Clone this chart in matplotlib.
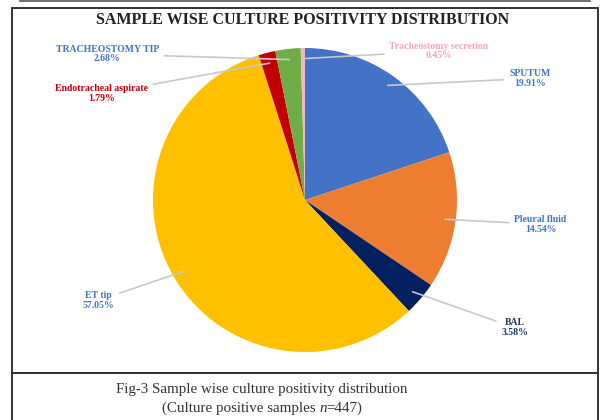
import matplotlib.pyplot as plt
from matplotlib.patches import Rectangle
from matplotlib.lines import Line2D
import numpy as np

plt.rcParams['font.family'] = ['Liberation Serif', 'DejaVu Serif']

labels = ['SPUTUM', 'Pleural fluid', 'BAL', 'ET tip', 'Endotracheal aspirate',
          'TRACHEOSTOMY TIP', 'Tracheostomy secretion']
values = [19.91, 14.54, 3.58, 57.05, 1.79, 2.68, 0.45]
colors = ['#4472C4', '#ED7D31', '#002060', '#FFC000', '#C00000', '#70AD47', '#F4B6C8']
label_colors = ['#4472C4', '#4472C4', '#1F3864', '#4472C4', '#C00000', '#4472C4', '#F4A6C0']
# label text positions in axes data coords (pie radius = 1)
label_pos = [(1.48, 0.80), (1.55, -0.16), (1.38, -0.84), (-1.36, -0.66),
             (-1.34, 0.70), (-1.30, 0.96), (0.88, 0.98)]

W, H = 606, 420
fig = plt.figure(figsize=(W / 100, H / 100), dpi=100)
fig.patch.set_facecolor('white')

def fx(px):
    return px / W

def fy(py):
    return 1 - py / H

# frames
for y0, y1 in [(8, 373), (373, 425)]:
    fig.add_artist(Rectangle((fx(12), fy(y1)), fx(598) - fx(12), fy(y0) - fy(y1),
                             transform=fig.transFigure, fill=False,
                             edgecolor='#333333', linewidth=1.4))
fig.add_artist(Line2D([fx(20), fx(590)], [fy(1), fy(1)], transform=fig.transFigure,
                      color='#555555', linewidth=1.2))

# pie axes: center (305, 200) px, radius 152 px
r = 152
cx, cy = 305, 200
ax = fig.add_axes([fx(cx - r), fy(cy + r), 2 * r / W, 2 * r / H])
wedges, _ = ax.pie(values, colors=colors, startangle=90, counterclock=False,
                   radius=1.0, wedgeprops=dict(linewidth=0))
ax.set_xlim(-1, 1)
ax.set_ylim(-1, 1)
ax.set_aspect('auto')
ax.axis('off')

for w, lab, val, col, pos in zip(wedges, labels, values, label_colors, label_pos):
    ang = np.deg2rad((w.theta1 + w.theta2) / 2)
    xy = (0.93 * np.cos(ang), 0.93 * np.sin(ang))
    ax.annotate(f'{lab}\n{val:.2f}%', xy=xy, xytext=pos, ha='center', va='center',
                fontsize=7, fontweight='bold', color=col, linespacing=1.1,
                annotation_clip=False,
                arrowprops=dict(arrowstyle='-', color='#C8C8C8', linewidth=1.2,
                                shrinkA=2, shrinkB=0))

fig.text(fx(303), fy(20), 'SAMPLE WISE CULTURE POSITIVITY DISTRIBUTION',
         ha='center', va='center', fontsize=11.5, fontweight='bold', color='#222222')

fig.text(fx(262), fy(390), 'Fig-3 Sample wise culture positivity distribution',
         ha='center', va='center', fontsize=10.8, color='#333333')

# second caption line with italic n, assembled from three pieces
renderer = fig.canvas.get_renderer()
parts = [('(Culture positive samples ', 'normal'), ('n', 'italic'), ('=447)', 'normal')]
texts = [fig.text(0, fy(408), s, fontstyle=st, ha='left', va='center',
                  fontsize=10.8, color='#333333') for s, st in parts]
widths = [t.get_window_extent(renderer).width for t in texts]
x = 262 - sum(widths) / 2
for t, wd in zip(texts, widths):
    t.set_x(fx(x))
    x += wd

plt.savefig('out.png', dpi=100)
plt.close()
